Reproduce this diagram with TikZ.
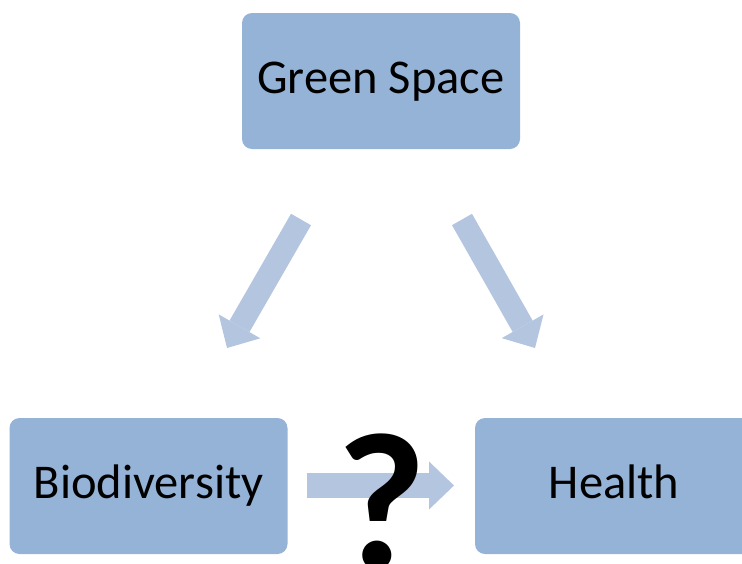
\documentclass[tikz,border=0pt]{standalone}
\usepackage{fontspec}
\setmainfont{Carlito}
\usetikzlibrary{arrows.meta}
\definecolor{boxblue}{HTML}{95B3D7}
\definecolor{arrowblue}{HTML}{B4C5DF}
\begin{document}
\begin{tikzpicture}[x=1pt,y=-1pt,
  conceptbox/.style={fill=boxblue, rounded corners=10pt, minimum width=278pt,
    minimum height=136pt, inner sep=0pt, text height=25pt, text depth=0pt,
    font=\fontsize{48.5}{56}\selectfont},
  fatarrow/.style={draw=arrowblue, line width=#1,
    -{Triangle[length=25pt,width=48pt,line width=0pt]}},
  fatarrow/.default=23pt]
  \useasboundingbox (0,0) rectangle (742,563);
  \begin{scope}
    \clip (0,0) rectangle (742,563);
    % the three concepts
    \node[conceptbox] (green) at (381,81) {Green Space};
    \node[conceptbox] (bio) at (148.5,486) {Biodiversity};
    \node[conceptbox] (health) at (614,486) {Health};
    % free ends of the arrows
    \coordinate (gsL) at (301,219.5);
    \coordinate (bioTip) at (227,348);
    \coordinate (gsR) at (462,219.5);
    \coordinate (healthTip) at (535,348);
    \coordinate (bioOut) at (307,485.5);
    \coordinate (healthIn) at (454,485.5);
    % links
    \draw[fatarrow] (gsL) -- (bioTip);
    \draw[fatarrow] (gsR) -- (healthTip);
    \draw[fatarrow=25pt] (bioOut) -- (healthIn);
    % the open question
    \node[anchor=base, inner sep=0pt, font=\bfseries\fontsize{195}{200}\selectfont]
      (query) at (382,568) {?};
  \end{scope}
\end{tikzpicture}
\end{document}
